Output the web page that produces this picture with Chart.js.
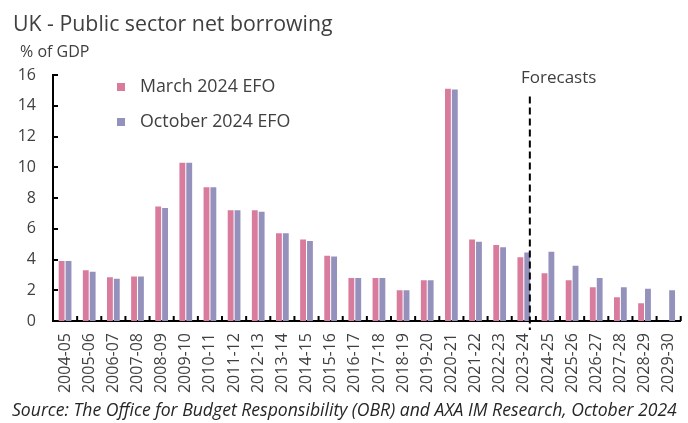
<!DOCTYPE html>
<html>
<head>
<meta charset="utf-8">
<script src="https://cdn.jsdelivr.net/npm/chart.js@4.4.1/dist/chart.umd.min.js"></script>
<style>
  html, body { margin: 0; padding: 0; background: #fff; }
  #wrap { width: 688px; height: 423px; overflow: hidden; position: relative; }
  #inner { width: 700px; height: 423px; }
</style>
</head>
<body>
<div id="wrap"><div id="inner"><canvas id="chart"></canvas></div></div>
<script>
// Datos (% del PIB)
const categories = ['2004-05', '2005-06', '2006-07', '2007-08', '2008-09', '2009-10', '2010-11',
  '2011-12', '2012-13', '2013-14', '2014-15', '2015-16', '2016-17', '2017-18', '2018-19',
  '2019-20', '2020-21', '2021-22', '2022-23', '2023-24', '2024-25', '2025-26', '2026-27',
  '2027-28', '2028-29', '2029-30'];
const march2024 = [3.9, 3.3, 2.85, 2.9, 7.45, 10.3, 8.7, 7.2, 7.2, 5.7, 5.3, 4.25, 2.8, 2.8, 2.0,
  2.65, 15.1, 5.3, 4.95, 4.15, 3.1, 2.65, 2.2, 1.55, 1.15, null];
const october2024 = [3.9, 3.2, 2.75, 2.9, 7.35, 10.3, 8.7, 7.2, 7.1, 5.7, 5.2, 4.2, 2.8, 2.8, 2.0,
  2.65, 15.05, 5.15, 4.8, 4.45, 4.5, 3.6, 2.8, 2.2, 2.1, 2.0];
const yTicks = [0, 2, 4, 6, 8, 10, 12, 14, 16];
const seriesLabels = ['March 2024 EFO', 'October 2024 EFO'];
const forecastFrom = '2024-25';

const TEXT = '#404040';
const FONT = '"Open Sans", sans-serif';

// Plugin para textos, leyenda, marcas interiores y línea de previsiones
const decorations = {
  id: 'decorations',
  afterDraw(chart) {
    const ctx = chart.ctx;
    const xs = chart.scales.x;
    const ys = chart.scales.y;
    const area = chart.chartArea;
    ctx.save();

    // Marcas del eje Y hacia dentro
    ctx.strokeStyle = '#000';
    ctx.lineWidth = 2;
    yTicks.forEach(v => {
      const y = Math.round(ys.getPixelForValue(v));
      ctx.beginPath();
      ctx.moveTo(area.left, y);
      ctx.lineTo(area.left + 5, y);
      ctx.stroke();
    });

    // Marcas del eje X entre categorías
    for (let i = 1; i <= categories.length; i++) {
      const x = xs.getPixelForValue(i - 0.5);
      ctx.beginPath();
      ctx.moveTo(x, area.bottom);
      ctx.lineTo(x, area.bottom - 5);
      ctx.stroke();
    }

    // Línea discontinua de previsiones
    const fx = xs.getPixelForValue(categories.indexOf(forecastFrom) - 0.75);
    ctx.setLineDash([7, 4]);
    ctx.beginPath();
    ctx.moveTo(fx, ys.getPixelForValue(14.6));
    ctx.lineTo(fx, area.bottom + 9);
    ctx.stroke();
    ctx.setLineDash([]);

    // Títulos
    ctx.fillStyle = TEXT;
    ctx.textAlign = 'left';
    ctx.textBaseline = 'alphabetic';
    ctx.font = '21.3px ' + FONT;
    ctx.fillText('UK - Public sector net borrowing', 13, 31);
    ctx.font = '16px ' + FONT;
    ctx.fillText('% of GDP', 20, 57);
    ctx.font = '17px ' + FONT;
    ctx.fillText('Forecasts', 521, 83);

    // Leyenda
    chart.data.datasets.forEach((ds, i) => {
      const y = 91 + i * 35;
      ctx.fillStyle = ds.backgroundColor;
      ctx.fillRect(117, y - 8, 8, 8);
      ctx.fillStyle = TEXT;
      ctx.font = '17.8px ' + FONT;
      ctx.fillText(ds.label, 140, y + 1);
    });

    // Fuente
    ctx.fillStyle = '#262626';
    ctx.font = 'italic 17.6px ' + FONT;
    ctx.fillText('Source: The Office for Budget Responsibility (OBR) and AXA IM Research, October 2024', 12, 416);

    ctx.restore();
  }
};

new Chart(document.getElementById('chart'), {
  type: 'bar',
  data: {
    labels: categories,
    datasets: [{
      label: seriesLabels[0],
      data: march2024,
      backgroundColor: '#D97B9C',
      barPercentage: 0.85,
      categoryPercentage: 0.57
    }, {
      label: seriesLabels[1],
      data: october2024,
      backgroundColor: '#9491BC',
      barPercentage: 0.85,
      categoryPercentage: 0.57
    }]
  },
  options: {
    responsive: true,
    maintainAspectRatio: false,
    animation: false,
    layout: { padding: { left: 0, right: 7, top: 75, bottom: 0 } },
    plugins: {
      legend: { display: false },
      tooltip: { enabled: false }
    },
    scales: {
      x: {
        grid: { display: false, drawTicks: false },
        border: { display: true, color: '#000', width: 2 },
        ticks: {
          color: TEXT,
          font: { family: FONT, size: 16 },
          minRotation: 90,
          maxRotation: 90,
          autoSkip: false,
          padding: 12
        },
        afterFit: s => { s.height = 102; }
      },
      y: {
        min: 0,
        max: 16,
        grid: { display: false, drawTicks: false },
        border: { display: true, color: '#000', width: 2 },
        ticks: {
          stepSize: 2,
          color: TEXT,
          font: { family: FONT, size: 16 },
          padding: 17
        },
        afterFit: s => { s.width = 53; }
      }
    }
  },
  plugins: [decorations]
});
</script>
</body>
</html>
